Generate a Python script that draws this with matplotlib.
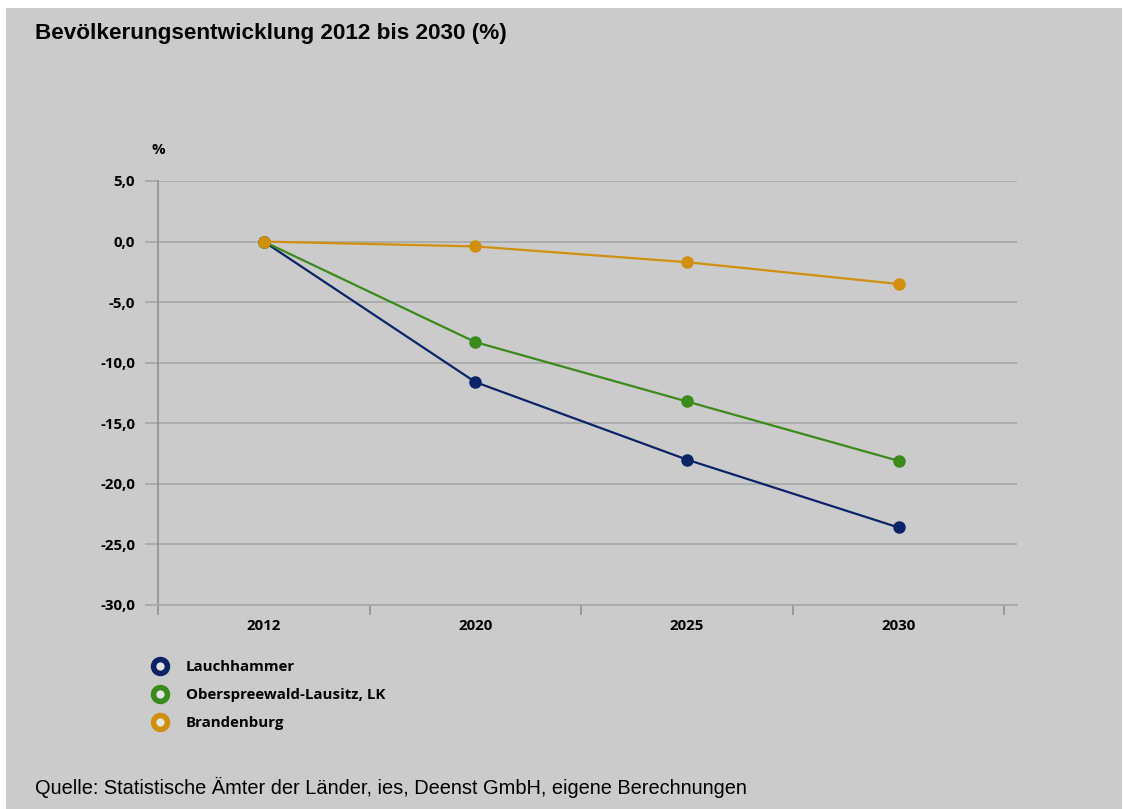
import numpy as np
import matplotlib.pyplot as plt
from matplotlib.lines import Line2D
from matplotlib.patches import Rectangle

years = ["2012", "2020", "2025", "2030"]
lauchhammer = [0.0, -11.6, -18.0, -23.6]
ospl = [0.0, -8.3, -13.2, -18.1]
brandenburg = [0.0, -0.4, -1.7, -3.5]
names = ["Lauchhammer", "Oberspreewald-Lausitz, LK", "Brandenburg"]
colors = ["#0b2467", "#3b8a1c", "#d28f0c"]
yticks = [5, 0, -5, -10, -15, -20, -25, -30]

W, H = 1123, 809
bg = "#cbcbcb"
grid_c = "#a9a9a9"
fs = 10.8
fig = plt.figure(figsize=(W / 100, H / 100), dpi=100, facecolor="white")
fig.patches.append(Rectangle((6 / W, 0), 1 - 7 / W, 1 - 8 / H, transform=fig.transFigure,
                             facecolor=bg, edgecolor="none", zorder=-10))

ax = fig.add_axes([158 / W, 1 - 605 / H, 859 / W, 424 / H])
ax.set_facecolor("none")

x = np.arange(len(years))
for vals, c in zip([lauchhammer, ospl, brandenburg], colors):
    ax.plot(x, vals, color=c, lw=1.6, marker="o", ms=8, zorder=3)

ax.set_xlim(-0.49, 3.56)
ax.set_ylim(-30, 5)
ax.set_yticks(yticks)
ax.set_yticklabels([f"{v:.1f}".replace(".", ",") for v in yticks],
                   fontfamily="Open Sans", fontweight="bold", fontsize=fs)
ax.grid(axis="y", color=grid_c, lw=1.3)
ax.tick_params(axis="y", length=9.5, width=1.3, color=grid_c, pad=7)

ax.set_xticks(np.arange(-0.5, 4, 1))
ax.set_xticklabels([])
ax.tick_params(axis="x", which="major", length=7, width=1.1, color="#8c8c8c")
ax.set_xticks(x, years, minor=True)
ax.tick_params(axis="x", which="minor", length=0, pad=10)
for lab in ax.get_xticklabels(minor=True):
    lab.set_fontfamily("Open Sans")
    lab.set_fontweight("bold")
    lab.set_fontsize(fs)

for s in ["top", "right"]:
    ax.spines[s].set_visible(False)
ax.spines["left"].set_color("#8c8c8c")
ax.spines["left"].set_linewidth(1.1)
ax.spines["bottom"].set_color(grid_c)
ax.spines["bottom"].set_linewidth(1.3)

fig.text(151 / W, 1 - 150 / H, "%", fontfamily="Open Sans", fontweight="bold",
         fontsize=fs, va="center", ha="left")

fig.text(35 / W, 1 - 33 / H, "Bevölkerungsentwicklung 2012 bis 2030 (%)",
         fontfamily="Liberation Sans", fontweight="bold", fontsize=16.2, va="center")
fig.text(35 / W, 1 - 787 / H,
         "Quelle: Statistische Ämter der Länder, ies, Deenst GmbH, eigene Berechnungen",
         fontfamily="Liberation Sans", fontsize=14.4, va="center")

handles = [Line2D([], [], ls="none", marker="o", ms=10, mew=4, mec=c, mfc="#e4e4e4")
           for c in colors]
leg = fig.legend(handles, names, loc="upper left", bbox_to_anchor=(152 / W, 1 - 660 / H),
                 frameon=False, handlelength=1.0, handletextpad=1.25, labelspacing=0.95,
                 borderaxespad=0, borderpad=0,
                 prop={"family": "Open Sans", "weight": "bold", "size": fs})

fig.savefig("out.png", dpi=100, facecolor=fig.get_facecolor())
